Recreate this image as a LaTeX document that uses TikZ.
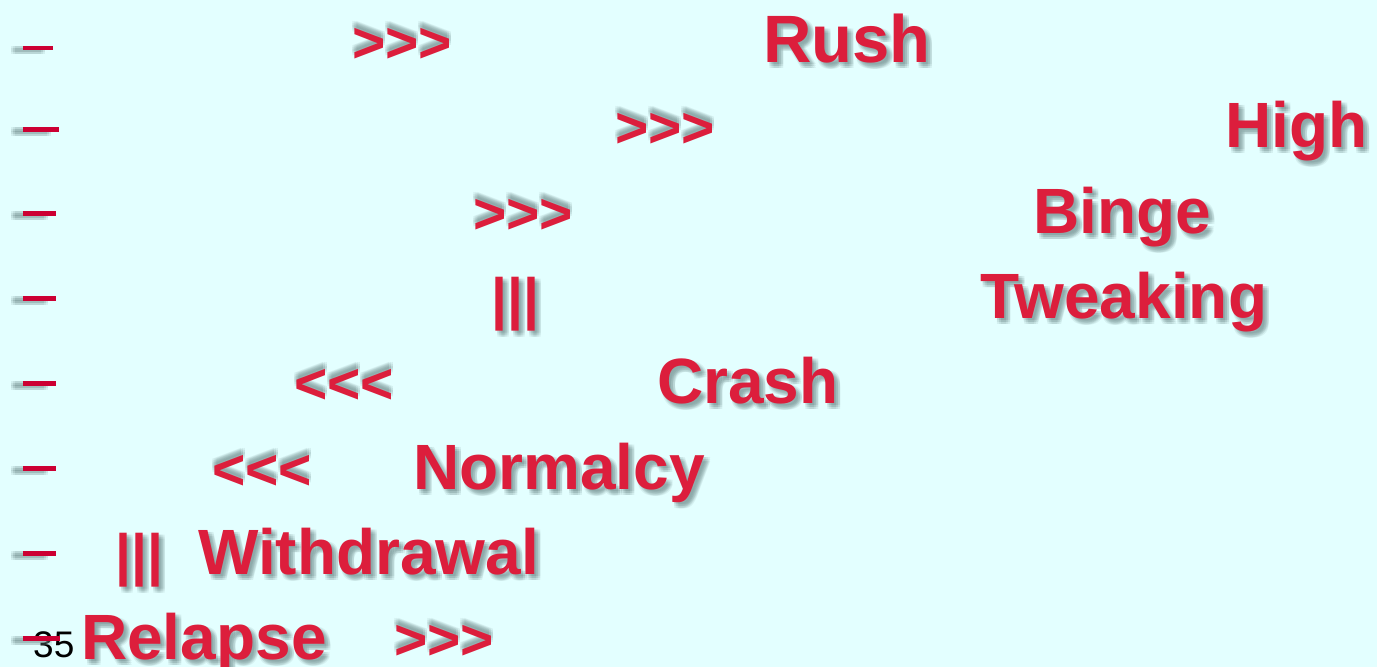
\documentclass[tikz,border=0pt]{standalone}
\usepackage{fontspec}
\setmainfont{Liberation Sans}[Ligatures=TeXOff]
\definecolor{slidebg}{HTML}{E3FFFF}
\definecolor{wordred}{HTML}{DC1E3C}
\definecolor{dashred}{HTML}{CC0033}
\definecolor{shadowgray}{HTML}{6F8C8C}
\tikzset{
  word/.style={anchor=base west,inner sep=0pt,font=\fontsize{64}{64}\selectfont\bfseries,text=wordred},
  wordshade/.style={word,text=shadowgray,opacity=0.13},
  arrowsign/.style={font=\fontsize{57}{57}\selectfont\bfseries},
  bar/.style={fill=dashred},
  barshade/.style={fill=shadowgray,opacity=0.13},
}
% name, x, baseline, text, shadow dx, shadow dy, extra style
\newcommand{\stageword}[7]{%
  \foreach \sx in {-2,0,2}
    \foreach \sy in {-2,0,2}
      \node[wordshade,#7] (#1 shade) at (#2+#5+\sx,-#3-#6+\sy) {#4};
  \node[word,#7] (#1) at (#2,-#3) {#4};}
\begin{document}
\begin{tikzpicture}[x=1pt,y=1pt]
\useasboundingbox (0,0) rectangle (1377,-667);
\fill[slidebg] (0,0) rectangle (1377,-667);
\node[anchor=base west,inner sep=0pt,font=\fontsize{37}{37}\selectfont] (pagenum) at (33,-657) {35};
% dashes
\foreach \y/\w/\t in {46/53/4,127/59/5,211/56/5,296/56/5,381/56/5,466/56/5,551/56/5,636/60/5}{
  \foreach \sx in {-2,0,2}
    \foreach \sy in {-2,0,2}
      \fill[barshade] (23-10+\sx,-\y-2+\sy) rectangle (\w-10+\sx,-\y-\t-2+\sy);
  \fill[bar] (23,-\y) rectangle (\w,-\y-\t);
}
% row 1
\stageword{up1}{352}{62}{>>>}{0}{-5}{arrowsign}
\stageword{rush}{763}{62}{Rush}{4}{4}{font=\fontsize{67}{67}\selectfont\bfseries}
% row 2
\stageword{up2}{615}{147}{>>>}{0}{-5}{arrowsign}
\stageword{high}{1225}{147}{High}{4}{4}{}
% row 3
\stageword{up3}{473}{233}{>>>}{0}{-5}{arrowsign}
\stageword{binge}{1033}{233}{Binge}{4}{4}{}
% row 4
\stageword{flat1}{491}{318}{|||}{4}{4}{arrowsign}
\stageword{tweaking}{980}{318}{Tweaking}{4}{4}{}
% row 5
\stageword{down1}{294}{403}{<<<}{0}{-5}{arrowsign}
\stageword{crash}{657}{403}{Crash}{4}{4}{}
% row 6
\stageword{down2}{212}{489}{<<<}{0}{-5}{arrowsign}
\stageword{normalcy}{413}{489}{Normalcy}{4}{4}{}
% row 7
\stageword{flat2}{115}{574}{|||}{4}{4}{arrowsign}
\stageword{withdrawal}{198}{574}{Withdrawal}{4}{4}{}
% row 8
\stageword{relapse}{81}{659}{Relapse}{4}{4}{}
\stageword{up4}{394}{659}{>>>}{0}{-5}{arrowsign}
\end{tikzpicture}
\end{document}
